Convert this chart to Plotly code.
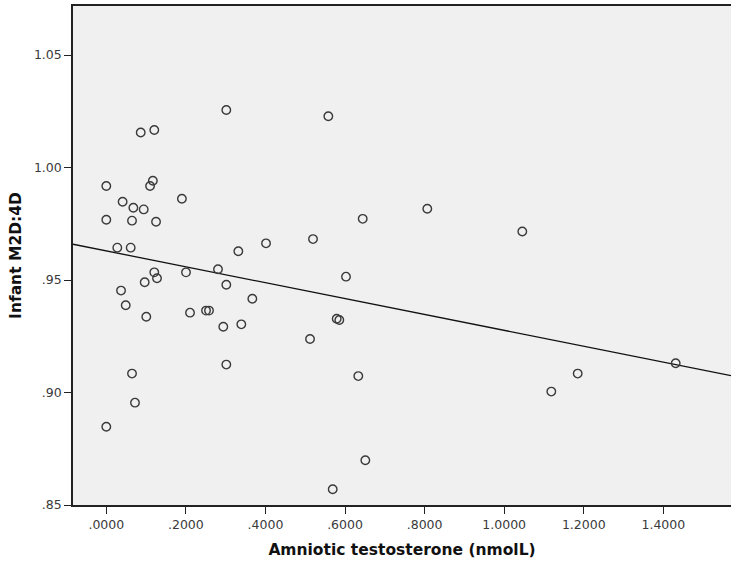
import plotly.graph_objects as go

# Amniotic testosterone (nmol/L) and infant M2D:4D
testosterone = [0.0865, 0.1206, 0.0, 0.117, 0.110, 0.041, 0.068, 0.094, 0.190, 0.0,
                0.0646, 0.125, 0.0276, 0.0613, 0.1206, 0.1274, 0.0965, 0.2003, 0.037, 0.0488,
                0.1005, 0.2104, 0.0646, 0.0721, 0.0, 0.3016, 0.2807, 0.3318, 0.4014, 0.3016,
                0.367, 0.2506, 0.2581, 0.294, 0.3393, 0.3016, 0.558, 0.6444, 0.8067, 0.5195,
                0.6024, 0.579, 0.5856, 0.512, 0.6333, 0.651, 0.569, 1.0455, 1.1847, 1.1184,
                1.431]
m2d4d = [1.0156, 1.0167, 0.9918, 0.9941, 0.9918, 0.9848, 0.9821, 0.9814, 0.9861, 0.9768,
         0.9764, 0.9759, 0.9644, 0.9644, 0.9534, 0.9508, 0.9490, 0.9534, 0.9453, 0.9388,
         0.9337, 0.9355, 0.9084, 0.8955, 0.8848, 1.0256, 0.9548, 0.9628, 0.9663, 0.9479,
         0.9417, 0.9364, 0.9364, 0.9292, 0.9303, 0.9124, 1.0228, 0.9772, 0.9817, 0.9682,
         0.9515, 0.9328, 0.9322, 0.9238, 0.9073, 0.8699, 0.8570, 0.9716, 0.9084, 0.9004,
         0.9130]

# Fit line endpoints
fit_x = [-0.0837, 1.570]
fit_y = [0.9659, 0.9075]

x_tickvals = [0.0, 0.2, 0.4, 0.6, 0.8, 1.0, 1.2, 1.4]
x_ticktext = [".0000", ".2000", ".4000", ".6000", ".8000", "1.0000", "1.2000", "1.4000"]
y_tickvals = [0.85, 0.90, 0.95, 1.00, 1.05]
y_ticktext = [".85", ".90", ".95", "1.00", "1.05"]

fig = go.Figure()
fig.add_trace(go.Scatter(
    x=fit_x, y=fit_y, mode="lines",
    line=dict(color="#111111", width=1.3),
    showlegend=False, hoverinfo="skip"))
fig.add_trace(go.Scatter(
    x=testosterone, y=m2d4d, mode="markers",
    marker=dict(symbol="circle-open", size=8.5, color="#3a3a3a", line=dict(width=1.4, color="#3a3a3a")),
    showlegend=False))

fig.update_layout(
    width=731, height=567,
    margin=dict(l=73, r=0, t=6, b=62),
    paper_bgcolor="white",
    plot_bgcolor="#f0f0f0",
    font=dict(family="DejaVu Sans", size=12, color="#333333"),
    xaxis=dict(
        range=[-0.0837, 1.570],
        tickvals=x_tickvals, ticktext=x_ticktext,
        showgrid=False, zeroline=False,
        showline=True, linecolor="#222222", linewidth=1.5, mirror=True,
        ticks="outside", ticklen=7, tickcolor="#222222", tickwidth=1.2,
        tickfont=dict(size=12.5, color="#3a3a3a"),
        title=dict(text="<b>Amniotic testosterone (nmolL)</b>",
                   font=dict(size=15.5, color="#111111"), standoff=13),
    ),
    yaxis=dict(
        range=[0.85, 1.0718],
        tickvals=y_tickvals, ticktext=y_ticktext,
        showgrid=False, zeroline=False,
        showline=True, linecolor="#222222", linewidth=1.5,
        ticks="outside", ticklen=7, tickcolor="#222222", tickwidth=1.2,
        tickfont=dict(size=12.5, color="#3a3a3a"),
        title=dict(text="<b>Infant M2D:4D</b>",
                   font=dict(size=15.5, color="#111111"), standoff=8),
    ),
)

fig.write_html("out.html", config={"displayModeBar": False},
               post_script="document.body.style.margin='0';document.body.style.overflow='hidden';")
